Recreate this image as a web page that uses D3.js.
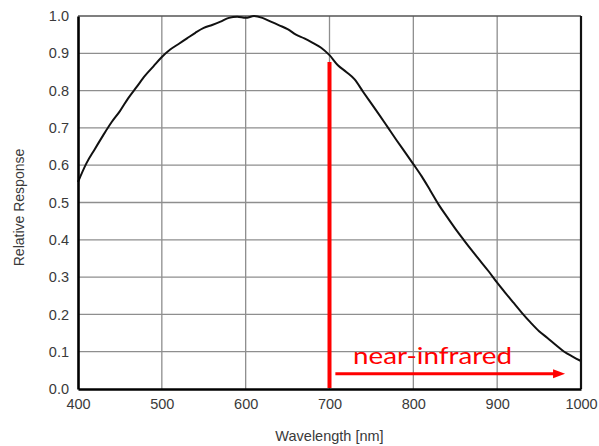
<!DOCTYPE html>
<html>
<head>
<meta charset="utf-8">
<script src="https://cdn.jsdelivr.net/npm/d3@7"></script>
<style>
  html, body { margin: 0; padding: 0; background: #fff; }
  svg { display: block; }
</style>
</head>
<body>
<svg id="chart" width="599" height="446"></svg>
<script>
// Spectral response curve (wavelength in nm, relative response)
const wavelengths = [400, 410, 420, 430, 440, 450, 460, 470, 480, 490,
  500, 510, 520, 530, 540, 550, 560, 570, 580, 590,
  600, 610, 620, 630, 640, 650, 660, 670, 680, 690,
  700, 710, 720, 730, 740, 750, 760, 770, 780, 790,
  800, 810, 820, 830, 840, 850, 860, 870, 880, 890,
  900, 910, 920, 930, 940, 950, 960, 970, 980, 990, 1000];
const response = [0.555, 0.605, 0.643, 0.680, 0.715, 0.745, 0.780, 0.810, 0.840, 0.865,
  0.890, 0.910, 0.925, 0.940, 0.955, 0.968, 0.976, 0.985, 0.995, 0.998,
  0.995, 1.000, 0.995, 0.985, 0.975, 0.965, 0.950, 0.940, 0.928, 0.915,
  0.895, 0.868, 0.850, 0.830, 0.797, 0.765, 0.733, 0.700, 0.667, 0.635,
  0.603, 0.570, 0.533, 0.495, 0.462, 0.430, 0.400, 0.371, 0.343, 0.315,
  0.285, 0.257, 0.230, 0.203, 0.178, 0.155, 0.137, 0.118, 0.100, 0.087, 0.075];

// Axis ticks
const xTicks = [400, 500, 600, 700, 800, 900, 1000];
const yTicks = [0.0, 0.1, 0.2, 0.3, 0.4, 0.5, 0.6, 0.7, 0.8, 0.9, 1.0];

// Near-infrared annotation: boundary marker and arrow span
const nirBoundary = [700, 0.0, 0.877];  // wavelength, bottom, top
const nirArrow = [707, 981, 0.041];     // start, end, level
const nirLabel = "near-infrared";

const margin = { left: 78, right: 18, top: 16, bottom: 57 };
const W = 599, H = 446;
const svg = d3.select("#chart");

const x = d3.scaleLinear().domain([400, 1000]).range([margin.left, W - margin.right]);
const y = d3.scaleLinear().domain([0, 1]).range([H - margin.bottom, margin.top]);

const font = "'Liberation Sans', Arial, Helvetica, sans-serif";

// Grid
const grid = svg.append("g");
grid.selectAll("line.v").data(xTicks.slice(1, -1)).join("line")
  .attr("x1", d => x(d)).attr("x2", d => x(d))
  .attr("y1", y(0)).attr("y2", y(1))
  .attr("stroke", "#8e8e8e").attr("stroke-width", 1.3);
grid.selectAll("line.h").data(yTicks.slice(1, -1)).join("line")
  .attr("x1", x(400)).attr("x2", x(1000))
  .attr("y1", d => y(d)).attr("y2", d => y(d))
  .attr("stroke", "#8e8e8e").attr("stroke-width", 1.3);

// Frame
svg.append("line").attr("x1", x(400)).attr("x2", x(1000)).attr("y1", y(1)).attr("y2", y(1))
  .attr("stroke", "#555").attr("stroke-width", 1.6);
svg.append("line").attr("x1", x(1000)).attr("x2", x(1000)).attr("y1", y(1)).attr("y2", y(0))
  .attr("stroke", "#111").attr("stroke-width", 2.2);

// Curve
const pts = wavelengths.map((w, i) => [w, response[i]]);
svg.append("path").datum(pts)
  .attr("d", d3.line().x(d => x(d[0])).y(d => y(d[1])).curve(d3.curveMonotoneX))
  .attr("fill", "none").attr("stroke", "#111").attr("stroke-width", 2)
  .attr("stroke-linejoin", "round");

// Axes
const xAxis = svg.append("g").attr("transform", `translate(0,${y(0)})`)
  .call(d3.axisBottom(x).tickValues(xTicks).tickSize(0).tickPadding(10).tickFormat(d3.format("d")));
const yAxis = svg.append("g").attr("transform", `translate(${x(400)},0)`)
  .call(d3.axisLeft(y).tickValues(yTicks).tickSize(0).tickPadding(9).tickFormat(d3.format(".1f")));
[xAxis, yAxis].forEach(g => {
  g.select(".domain").attr("stroke", "#000").attr("stroke-width", 2.6);
  g.selectAll("text").attr("font-family", font).attr("font-size", 14.5).attr("fill", "#3a3a3a");
});

// Axis titles
svg.append("text")
  .attr("x", x(700)).attr("y", 441)
  .attr("text-anchor", "middle")
  .attr("font-family", font).attr("font-size", 14.5).attr("fill", "#3a3a3a")
  .text("Wavelength [nm]");
svg.append("text")
  .attr("transform", `translate(24,${(y(0) + y(1)) / 2 + 5}) rotate(-90)`)
  .attr("text-anchor", "middle")
  .attr("font-family", font).attr("font-size", 14).attr("fill", "#3a3a3a")
  .text("Relative Response");

// Near-infrared annotation
const red = "#ff0000";
svg.append("line")
  .attr("x1", x(nirBoundary[0])).attr("x2", x(nirBoundary[0]))
  .attr("y1", y(nirBoundary[1]) - 1).attr("y2", y(nirBoundary[2]))
  .attr("stroke", red).attr("stroke-width", 4);

const ay = y(nirArrow[2]);
const ax1 = x(nirArrow[0]), ax2 = x(nirArrow[1]);
svg.append("line")
  .attr("x1", ax1).attr("x2", ax2 - 10).attr("y1", ay).attr("y2", ay)
  .attr("stroke", red).attr("stroke-width", 3);
svg.append("path")
  .attr("d", d3.line()([[ax2 - 12, ay - 4.5], [ax2, ay], [ax2 - 12, ay + 4.5]]) + "Z")
  .attr("fill", red);

svg.append("text")
  .attr("x", 353).attr("y", 364)
  .attr("font-family", "Lato, 'Open Sans', sans-serif")
  .attr("font-size", 24).attr("fill", red)
  .attr("textLength", 159).attr("lengthAdjust", "spacingAndGlyphs")
  .text(nirLabel);
</script>
</body>
</html>
